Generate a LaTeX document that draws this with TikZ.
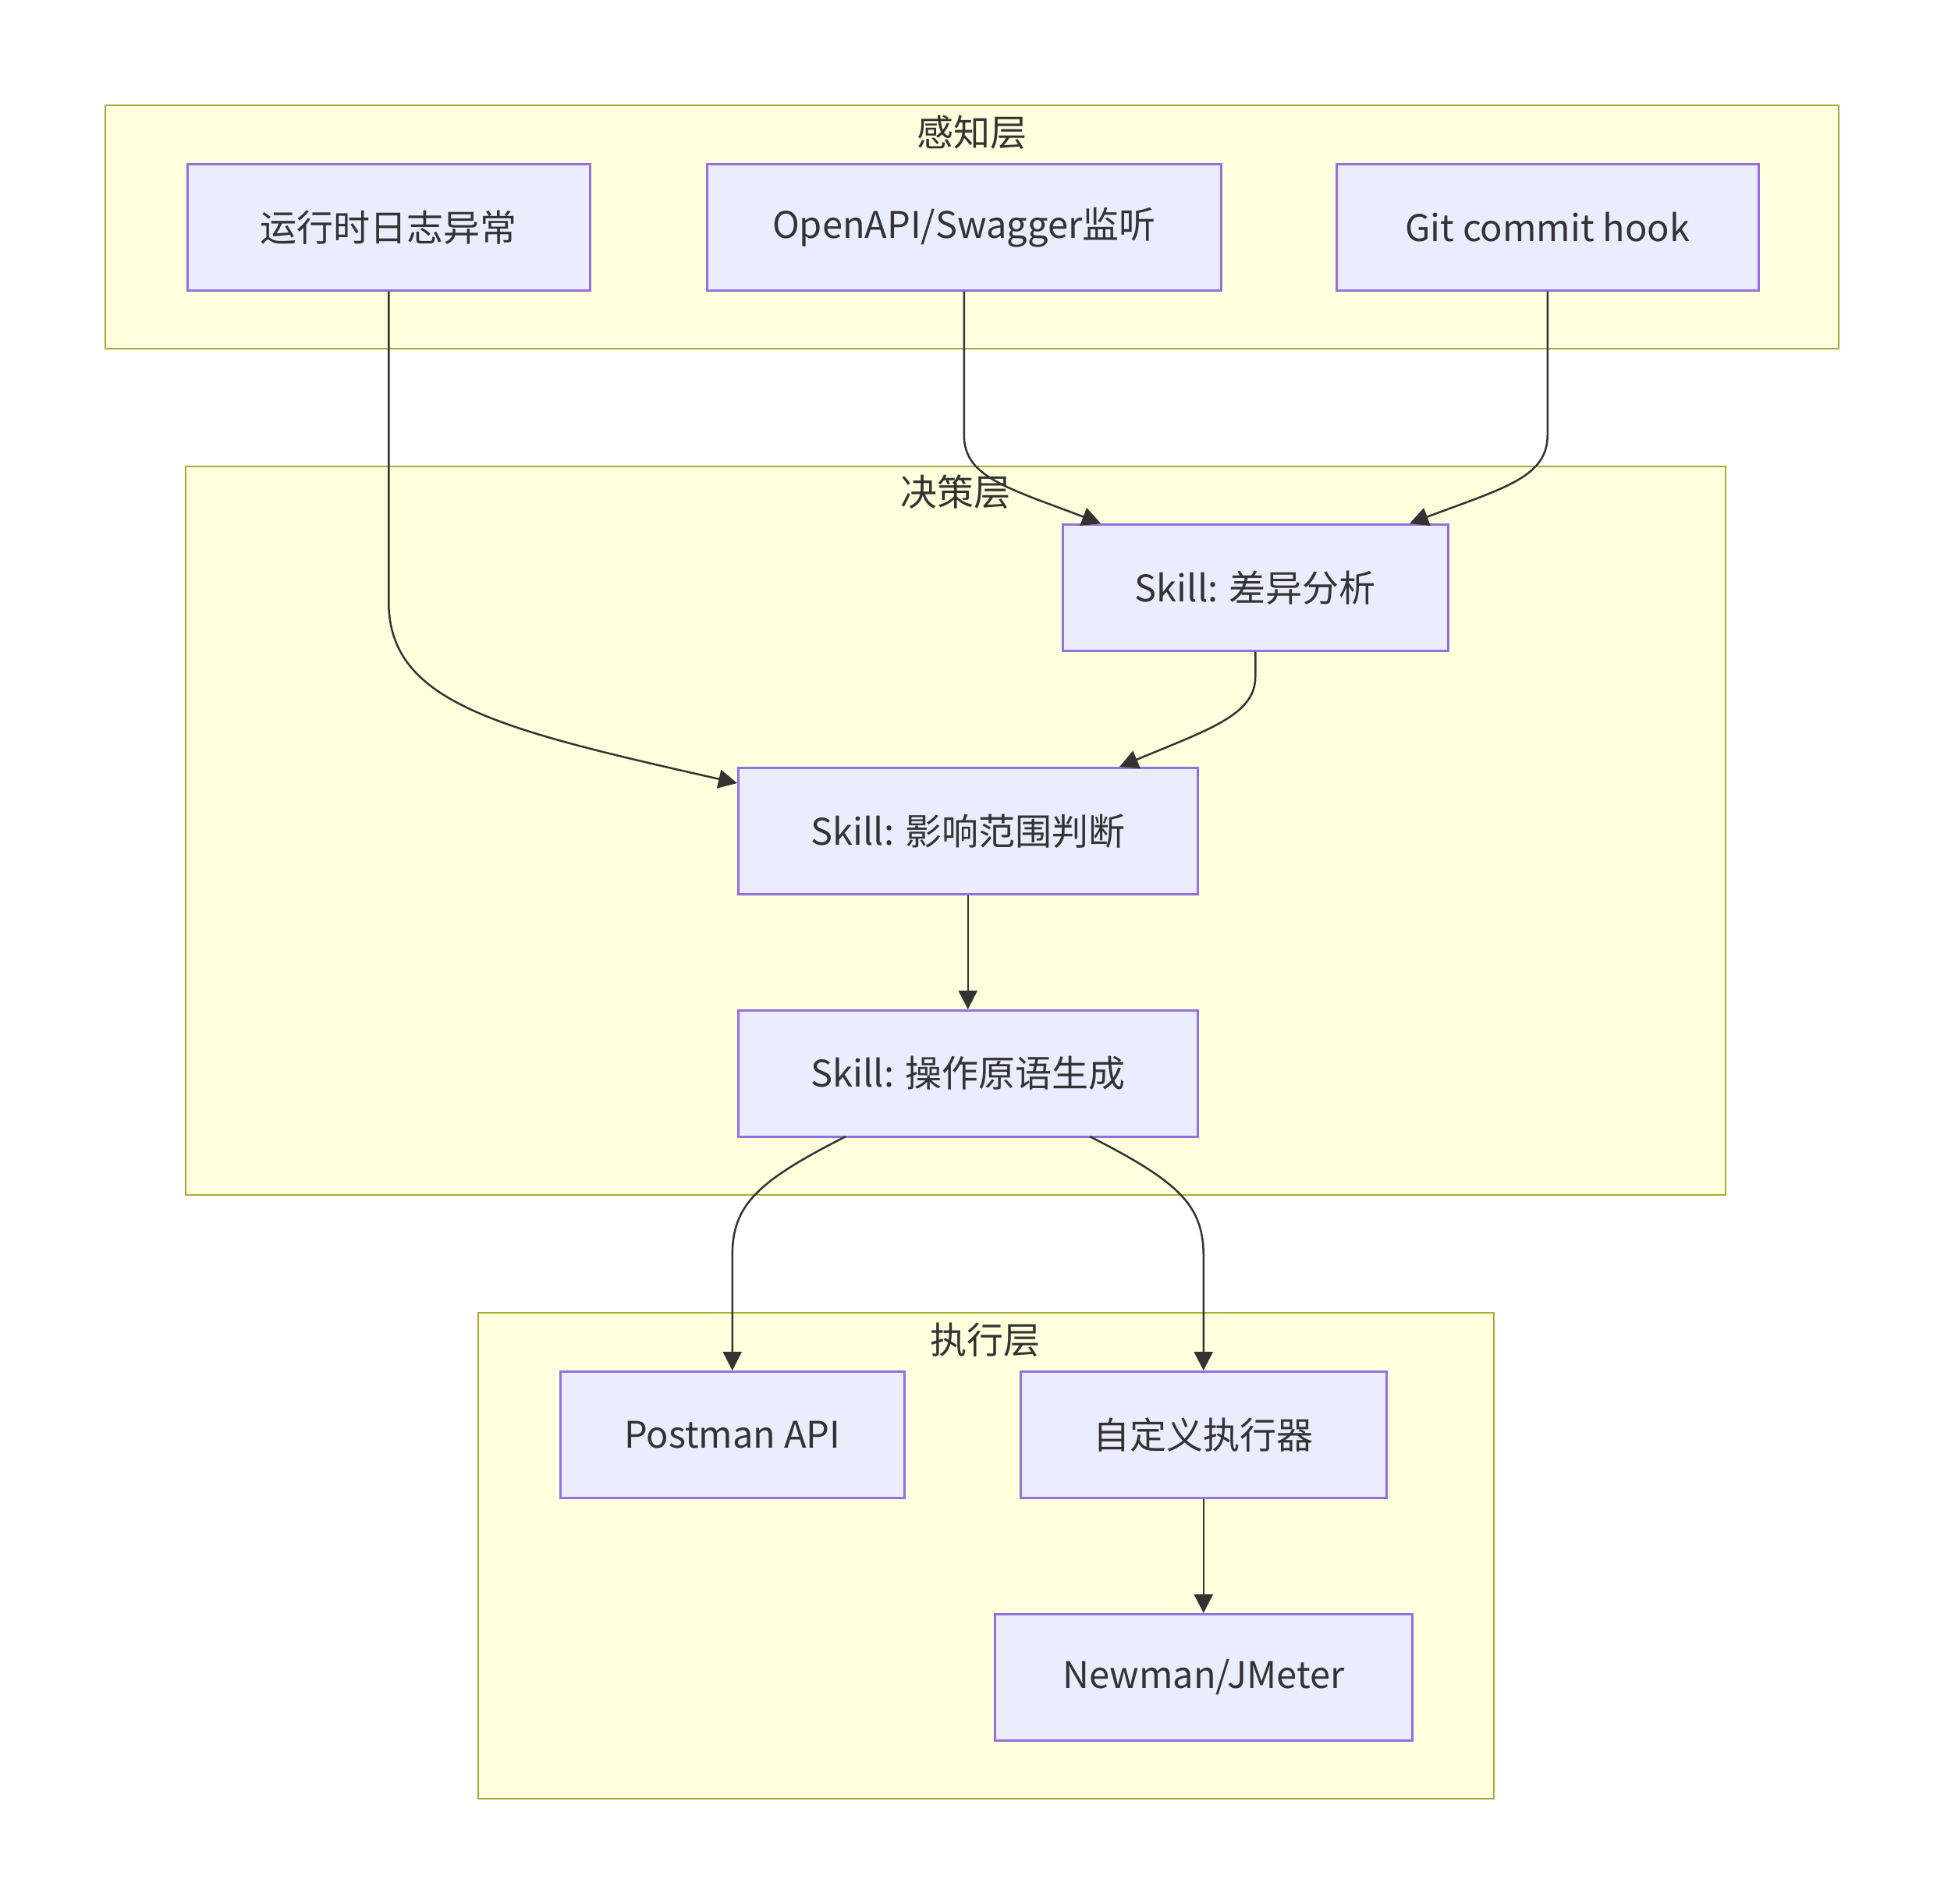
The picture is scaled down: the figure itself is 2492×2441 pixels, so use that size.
\documentclass[tikz,border=0pt]{standalone}
\usepackage{fontspec}
\setmainfont{Noto Sans CJK SC}
\usetikzlibrary{arrows.meta,calc}
\definecolor{nodefill}{HTML}{ECECFF}
\definecolor{nodeline}{HTML}{9370DB}
\definecolor{grpfill}{HTML}{FFFFDE}
\definecolor{grpline}{HTML}{AAAA33}
\definecolor{ink}{HTML}{333333}
\begin{document}
\begin{tikzpicture}[x=1pt,y=-1pt,
  grp/.style={draw=grpline,fill=grpfill,line width=2.5pt},
  box/.style={draw=nodeline,fill=nodefill,line width=2.5pt,text=ink,
    font=\fontsize{47}{56}\selectfont,inner sep=0pt,anchor=north west},
  ttl/.style={text=ink,font=\fontsize{47}{56}\selectfont,inner sep=0pt},
  conn/.style={draw=ink,line width=2.5pt,-{Triangle[length=24pt,width=24pt]}}]
\useasboundingbox (0,0) rectangle (2492,2441);
\fill[white] (0,0) rectangle (2492,2441);
% groups
\draw[grp] (135,135) rectangle (2357,447);
\node[ttl] (t1) at (1246,170) {感知层};
\draw[grp] (238,598) rectangle (2212,1532);
\node[ttl] (t2) at (1225,631) {决策层};
\draw[grp] (613,1683) rectangle (1915,2306);
\node[ttl] (t3) at (1263,1718) {执行层};
% nodes
\node[box,minimum width=516pt,minimum height=162pt] (log) at (239,209) {运行时日志异常};
\node[box,minimum width=659pt,minimum height=162pt] (oa) at (905,209) {OpenAPI/Swagger监听};
\node[box,minimum width=541pt,minimum height=162pt] (git) at (1712,209) {Git commit hook};
\node[box,minimum width=494pt,minimum height=162pt] (diff) at (1361,671) {Skill: 差异分析};
\node[box,minimum width=589pt,minimum height=162pt] (imp) at (945,983) {Skill: 影响范围判断};
\node[box,minimum width=589pt,minimum height=162pt] (gen) at (945,1294) {Skill: 操作原语生成};
\node[box,minimum width=441pt,minimum height=162pt] (pm) at (717,1757) {Postman API};
\node[box,minimum width=469pt,minimum height=162pt] (cus) at (1307,1757) {自定义执行器};
\node[box,minimum width=535pt,minimum height=162pt] (nm) at (1274,2068) {Newman/JMeter};
% connectors
\draw[conn] (log.south) -- ++(0,398) .. controls +(0,130) and (640,935) .. ($(imp.north west)+(0,21)$);
\draw[conn] (oa.south) -- ++(0,184) .. controls +(0,54) and (1290,625) .. (1411,671);
\draw[conn] (git.south) -- ++(0,184) .. controls +(0,54) and (1930,625) .. (1807,671);
\draw[conn] (diff.south) -- ++(0,32) .. controls +(0,49) and (1550,935) .. (1435,983);
\draw[conn] (imp.south) -- (gen.north);
\draw[conn] (1084,1457) .. controls (970,1515) and (pm.north|-0,1545) .. (pm.north|-0,1610) -- (pm.north);
\draw[conn] (1397,1457) .. controls (1511,1515) and (cus.north|-0,1545) .. (cus.north|-0,1610) -- (cus.north);
\draw[conn] (cus.south) -- (cus.south|-nm.north);
\end{tikzpicture}
\end{document}
